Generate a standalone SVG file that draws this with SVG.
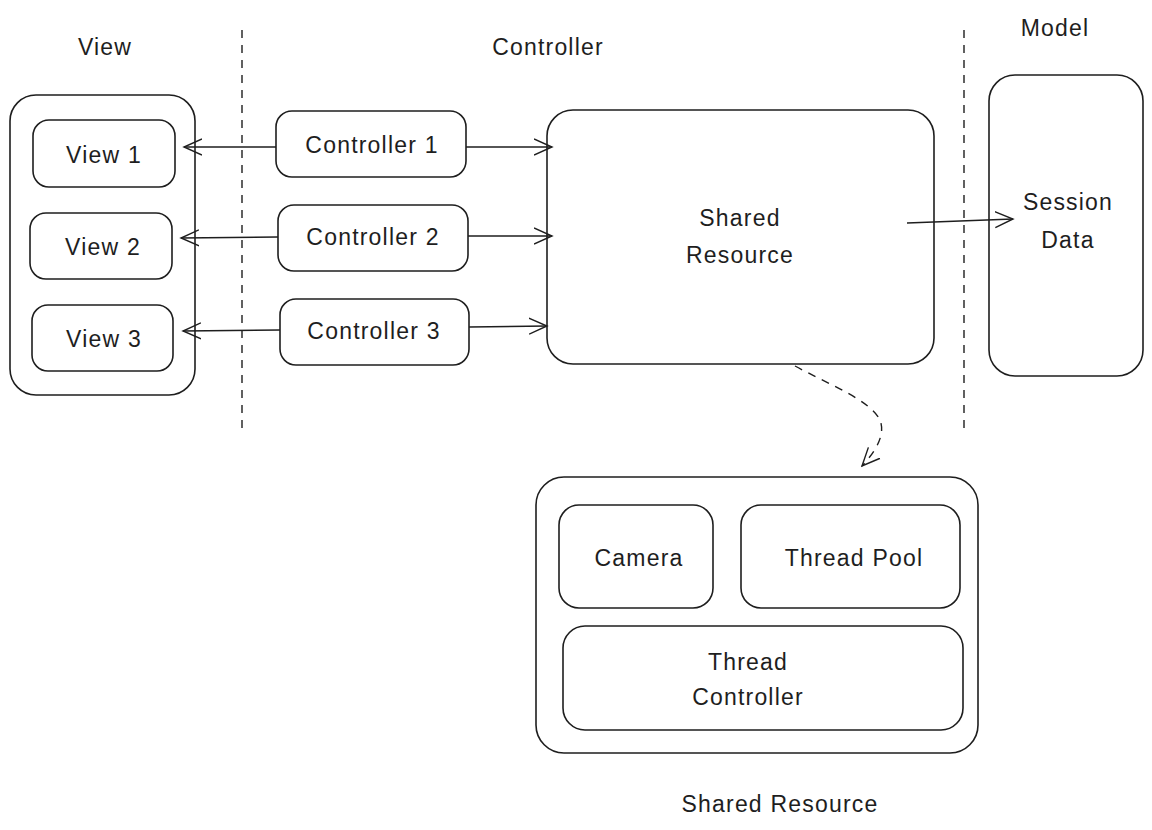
<svg xmlns="http://www.w3.org/2000/svg" width="1152" height="830" viewBox="0 0 1152 830">
<defs>
<style>
.box{fill:none;stroke:#1e1e1e;stroke-width:1.6}
.lbl{font-family:"Liberation Sans",Arial,sans-serif;font-size:23px;letter-spacing:1.2px;fill:#1e1e1e;text-anchor:middle}
.conn{fill:none;stroke:#1e1e1e;stroke-width:1.6}
.dash{fill:none;stroke:#1e1e1e;stroke-width:1.4;stroke-dasharray:8 7}
</style>
<marker id="arr" viewBox="0 0 20 20" refX="18" refY="10" markerWidth="20" markerHeight="20" markerUnits="userSpaceOnUse" orient="auto-start-reverse">
<path d="M0 2 L18 10 L0 18" fill="none" stroke="#1e1e1e" stroke-width="1.4"/>
</marker>
</defs>
<rect width="1152" height="830" fill="#ffffff"/>

<g id="section-labels">
<text class="lbl" x="105" y="55">View</text>
<text class="lbl" x="548" y="55">Controller</text>
<text class="lbl" x="1055" y="36">Model</text>
<text class="lbl" x="780" y="812">Shared Resource</text>
</g>

<g id="dividers">
<line class="dash" x1="242" y1="30" x2="242" y2="432"/>
<line class="dash" x1="964" y1="30" x2="964" y2="428"/>
</g>

<g id="view-container"><rect class="box" x="10" y="95" width="185" height="300" rx="26"/></g>
<g id="view1"><rect class="box" x="33" y="120" width="142" height="67" rx="16"/><text class="lbl" x="104" y="163">View 1</text></g>
<g id="view2"><rect class="box" x="30" y="213" width="142" height="66" rx="16"/><text class="lbl" x="103" y="255">View 2</text></g>
<g id="view3"><rect class="box" x="32" y="305" width="141" height="66" rx="16"/><text class="lbl" x="104" y="347">View 3</text></g>

<g id="controller1"><rect class="box" x="276" y="111" width="190" height="66" rx="16"/><text class="lbl" x="372" y="153">Controller 1</text></g>
<g id="controller2"><rect class="box" x="278" y="205" width="190" height="66" rx="16"/><text class="lbl" x="373" y="245">Controller 2</text></g>
<g id="controller3"><rect class="box" x="280" y="299" width="189" height="66" rx="16"/><text class="lbl" x="374" y="339">Controller 3</text></g>

<g id="shared-resource"><rect class="box" x="547" y="110" width="387" height="254" rx="26"/><text class="lbl" x="740" y="226">Shared</text><text class="lbl" x="740" y="263">Resource</text></g>

<g id="session-data"><rect class="box" x="989" y="75" width="154" height="301" rx="26"/><text class="lbl" x="1068" y="210">Session</text><text class="lbl" x="1068" y="248">Data</text></g>

<g id="shared-resource-detail">
<rect class="box" x="536" y="477" width="442" height="276" rx="28"/>
</g>
<g id="camera"><rect class="box" x="559" y="505" width="154" height="103" rx="20"/><text class="lbl" x="639" y="566">Camera</text></g>
<g id="thread-pool"><rect class="box" x="741" y="505" width="219" height="103" rx="20"/><text class="lbl" x="854" y="566">Thread Pool</text></g>
<g id="thread-controller"><rect class="box" x="563" y="626" width="400" height="104" rx="22"/><text class="lbl" x="748" y="670">Thread</text><text class="lbl" x="748" y="705">Controller</text></g>

<g id="connectors">
<line class="conn" x1="276" y1="147" x2="184" y2="147" marker-end="url(#arr)"/>
<line class="conn" x1="466" y1="147" x2="552" y2="147" marker-end="url(#arr)"/>
<line class="conn" x1="278" y1="237" x2="181" y2="238" marker-end="url(#arr)"/>
<line class="conn" x1="468" y1="236" x2="552" y2="236" marker-end="url(#arr)"/>
<line class="conn" x1="280" y1="330" x2="183" y2="331" marker-end="url(#arr)"/>
<line class="conn" x1="469" y1="327" x2="547" y2="326" marker-end="url(#arr)"/>
<line class="conn" x1="907" y1="223" x2="1013" y2="219" marker-end="url(#arr)"/>
<path class="dash" d="M795 366 C830 385 870 400 880 420 C886 435 875 452 862 466" marker-end="url(#arr)"/>
</g>
</svg>
